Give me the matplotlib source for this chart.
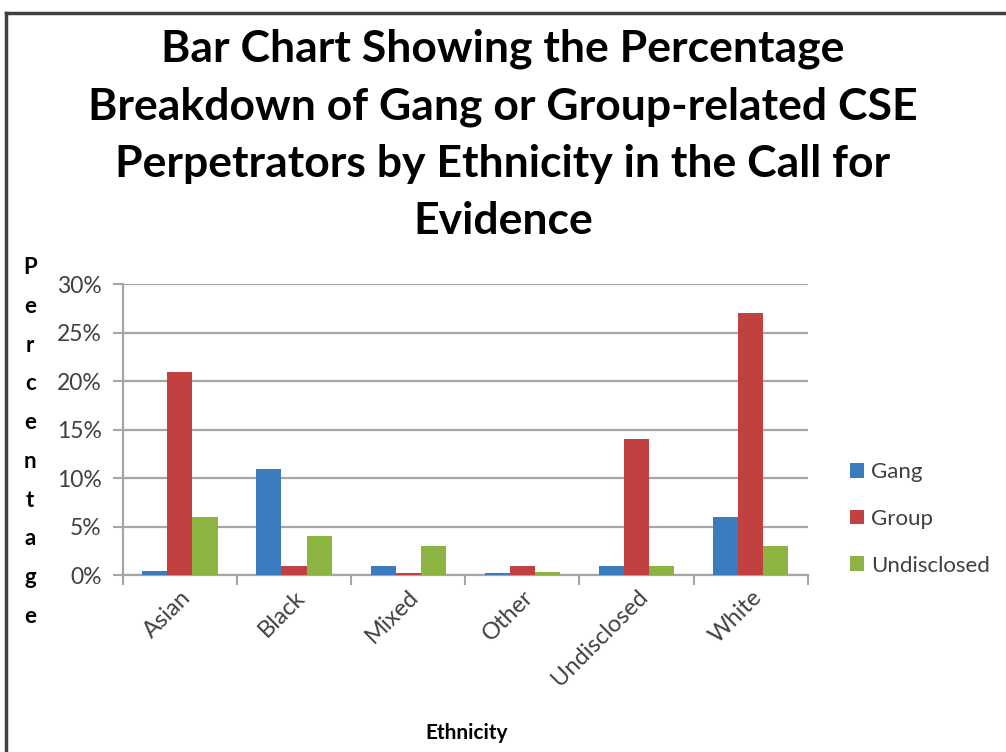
import numpy as np
import matplotlib.pyplot as plt
from matplotlib.lines import Line2D

# данные
categories = ['Asian', 'Black', 'Mixed', 'Other', 'Undisclosed', 'White']
gang = [0.4, 11, 1, 0.2, 1, 6]
group = [21, 1, 0.2, 1, 14, 27]
undisclosed = [6, 4, 3, 0.3, 1, 3]
series_names = ['Gang', 'Group', 'Undisclosed']
colors = ['#3b7cc0', '#c0413f', '#8db443']

plt.rcParams['font.family'] = ['Lato', 'DejaVu Sans']

fig = plt.figure(figsize=(10.06, 7.52), dpi=100)
ax = fig.add_axes([0.122, 0.235, 0.681, 0.387])

x = np.arange(len(categories))
w = 0.22
for i, (vals, name, c) in enumerate(zip([gang, group, undisclosed], series_names, colors)):
    ax.bar(x + (i - 1) * w, vals, width=w, color=c, label=name, zorder=3)

ax.set_xlim(-0.5, len(categories) - 0.5)
ax.set_ylim(0, 30)
ax.set_yticks(range(0, 31, 5))
ax.set_yticklabels([f'{v}%' for v in range(0, 31, 5)], fontsize=16.5, color='#404040')
ax.yaxis.grid(True, color='#a6a6a6', linewidth=1.6, zorder=0)

ax.set_xticks(x)
ax.set_xticklabels(categories, rotation=45, ha='right', rotation_mode='anchor',
                   fontsize=17, color='#404040')
ax.tick_params(axis='x', length=0, pad=8)
ax.set_xticks(np.arange(-0.5, len(categories)), minor=True)
ax.tick_params(axis='x', which='minor', length=7, color='#a6a6a6', width=1.5)
ax.tick_params(axis='y', length=7, color='#a6a6a6', width=1.5, pad=8)

for s in ['top', 'right']:
    ax.spines[s].set_visible(False)
for s in ['left', 'bottom']:
    ax.spines[s].set_color('#a6a6a6')
    ax.spines[s].set_linewidth(1.6)

# заголовок и подписи
fig.text(0.5, 0.962, 'Bar Chart Showing the Percentage\nBreakdown of Gang or Group-related CSE\n'
         'Perpetrators by Ethnicity in the Call for\nEvidence',
         ha='center', va='top', fontsize=32, fontweight='bold', linespacing=1.52, color='black')
fig.text(0.464, 0.025, 'Ethnicity', ha='center', va='center', fontsize=15, fontweight='bold')
for k, ch in enumerate('Percentage'):
    fig.text(0.03, 0.644 - k * 0.0515, ch, ha='center', va='center', fontsize=16, fontweight='bold')

fig.legend(loc='center left', bbox_to_anchor=(0.825, 0.31), frameon=False, fontsize=16,
           handlelength=0.65, handleheight=0.65, handletextpad=0.3, labelspacing=1.2,
           labelcolor='#404040')

# рамка
fig.add_artist(Line2D([0.006, 0.006], [0, 0.983], color='#404040', linewidth=2.5))
fig.add_artist(Line2D([0.006, 1.0], [0.983, 0.983], color='#404040', linewidth=2.5))

fig.savefig('out.png', dpi=100)
